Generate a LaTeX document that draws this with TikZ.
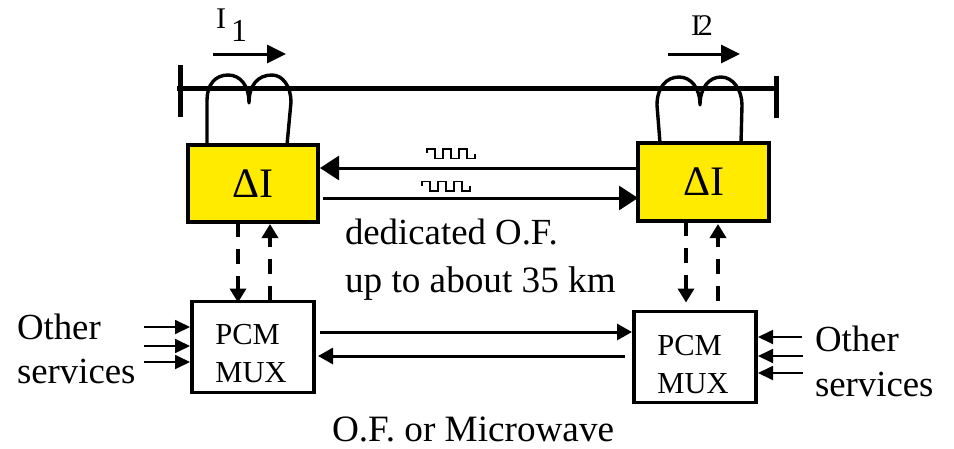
\documentclass[tikz,border=0pt]{standalone}
\usepackage{fontspec}
\setmainfont{Liberation Serif}
\usetikzlibrary{arrows.meta}
\definecolor{boxyellow}{RGB}{255,235,0}
\newcommand{\fsz}[2]{\fontsize{#1pt}{#2pt}\selectfont}
\tikzset{
  x=1pt,y=-1pt,
  yellowbox/.style={draw=black,fill=boxyellow,line width=3.6pt,rectangle,inner sep=0pt,outer sep=0pt,font=\fsz{42}{46}},
  muxbox/.style={draw=black,fill=white,line width=3.4pt,rectangle,inner sep=0pt,outer sep=0pt,minimum width=122pt,minimum height=91pt},
  muxtext/.style={inner sep=0pt,outer sep=0pt,align=left,font=\fsz{30.5}{38}},
  label/.style={inner sep=0pt,outer sep=0pt,anchor=base west,font=\fsz{36.8}{44}},
  busline/.style={line width=5pt},
  coil/.style={line width=3.4pt,line join=round,line cap=round},
  bigarrow/.style={line width=3pt,-{Triangle[length=19pt,width=24pt]}},
  currentarrow/.style={line width=3pt,-{Triangle[length=19pt,width=18pt]}},
  midarrow/.style={line width=3pt,-{Triangle[length=15pt,width=16pt]}},
  dasharrow/.style={line width=4pt,dash pattern=on 15pt off 12pt,-{Triangle[length=14pt,width=16pt]}},
  svcarrow/.style={line width=1.8pt,-{Triangle[length=15pt,width=14pt]}},
  pulse/.pic={\draw[line width=1.8pt,line join=miter] (0,4) -- ++(0,-4) -- ++(8,0) -- ++(0,9.5) -- ++(8,0) -- ++(0,-9.5) -- ++(8,0) -- ++(0,9.5) -- ++(8,0) -- ++(0,-9.5) -- ++(8,0) -- ++(0,9.5) -- ++(8,0) -- ++(0,-5);}
}
\begin{document}
\begin{tikzpicture}
\useasboundingbox (0,0) rectangle (954,448);
% boxes
\node[yellowbox,minimum width=130pt,minimum height=77pt] (dl) at (253,183.5) {\raisebox{-2.5pt}{ΔI}};
\node[yellowbox,minimum width=131pt,minimum height=78pt] (dr) at (703.5,182) {\raisebox{-2.5pt}{ΔI}};
\node[muxbox] (pl) at (253,347) {};
\node[muxbox] (pr) at (695,357) {};
\node[muxtext] (plt) at (251,353.5) {PCM\\MUX};
\node[muxtext] (prt) at (693,364.5) {PCM\\MUX};
% bus
\coordinate (busL) at (177,88);
\coordinate (busR) at (778,88);
\coordinate (tlT) at (180,65);
\coordinate (tlB) at (180,117);
\coordinate (trT) at (776,76);
\coordinate (trB) at (776,118);
\draw[busline] (busL) -- (busR);
\draw[busline] (tlT) -- (tlB);
\draw[busline] (trT) -- (trB);
% coils
\draw[coil] ([xshift=19pt]dl.north west) -- (207,100) .. controls (207,85) and (215,75) .. (228,75) .. controls (240,75) and (249,85) .. (249,103) .. controls (249,85) and (258,75) .. (272,75) .. controls (283,75) and (291,87) .. (291,102) -- ([xshift=99pt]dl.north west);
\draw[coil] ([xshift=22pt]dr.north west) -- (657,105) .. controls (657,88) and (666,77) .. (679,77) .. controls (691,77) and (700,88) .. (700,105) .. controls (700,88) and (709,77) .. (721,77) .. controls (733,77) and (742,90) .. (742,105) -- ([xshift=103pt]dr.north west);
% current arrows and labels
\coordinate (i1a) at (213,54); \coordinate (i1b) at (286,54);
\coordinate (i2a) at (668,54); \coordinate (i2b) at (740,54);
\draw[currentarrow] (i1a) -- (i1b);
\draw[currentarrow] (i2a) -- (i2b);
\node[label,font=\fsz{30}{34}] (i1t) at (216,28) {I};
\node[label,font=\fsz{32}{34}] (i1s) at (231,41) {1};
\node[label,font=\fsz{30}{34}] (i2t) at (691,35) {I\kern-3pt 2};
% optical fibre links
\coordinate (ya) at (0,168); \coordinate (yb) at (0,198);
\coordinate (yc) at (0,332); \coordinate (yd) at (0,356);
\draw[bigarrow] (dr.west |- ya) -- ([xshift=2pt]dl.east |- ya);
\draw[bigarrow] ([xshift=5pt]dl.east |- yb) -- (dr.west |- yb);
\draw[midarrow] ([xshift=6pt]pl.east |- yc) -- ([xshift=-2pt]pr.west |- yc);
\draw[midarrow] ([xshift=-9pt]pr.west |- yd) -- ([xshift=4pt]pl.east |- yd);
\pic at (427,149) {pulse};
\pic at (422,181.5) {pulse};
% dashed links
\coordinate (xa) at (238,0); \coordinate (xb) at (270,0);
\coordinate (xc) at (686,0); \coordinate (xd) at (718,0);
\draw[dasharrow] (dl.south -| xa) -- ([yshift=-1pt]pl.north -| xa);
\draw[dasharrow] ([yshift=1pt]pl.north -| xb) -- ([yshift=-2pt]dl.south -| xb);
\draw[dasharrow] (dr.south -| xc) -- ([yshift=9pt]pr.north -| xc);
\draw[dasharrow] ([yshift=11pt]pr.north -| xd) -- ([yshift=-3pt]dr.south -| xd);
% other services
\coordinate (sl1) at (144,327); \coordinate (sl2) at (144,346); \coordinate (sl3) at (144,362);
\coordinate (sr1) at (802,337); \coordinate (sr2) at (803,356); \coordinate (sr3) at (803,373);
\draw[svcarrow] (sl1) -- ([xshift=-2pt]pl.west |- sl1);
\draw[svcarrow] (sl2) -- ([xshift=-2pt]pl.west |- sl2);
\draw[svcarrow] (sl3) -- ([xshift=-2pt]pl.west |- sl3);
\draw[svcarrow] (sr1) -- ([xshift=2pt]pr.east |- sr1);
\draw[svcarrow] (sr2) -- ([xshift=2pt]pr.east |- sr2);
\draw[svcarrow] (sr3) -- ([xshift=2pt]pr.east |- sr3);
% labels
\node[label] (o1) at (17,339) {Other};
\node[label] (s1) at (17,383) {services};
\node[label] (o2) at (815,351) {Other};
\node[label] (s2) at (815,396) {services};
\node[label] (d1) at (345,244) {dedicated O.F.};
\node[label,font=\fsz{37.2}{44}] (d2) at (345,292) {up to about 35 km};
\node[label,font=\fsz{37.2}{44}] (mw) at (332,441) {O.F. or Microwave};
\end{tikzpicture}
\end{document}
